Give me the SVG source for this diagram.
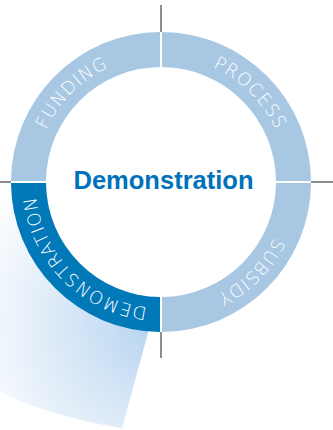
<svg xmlns="http://www.w3.org/2000/svg" width="333" height="430" viewBox="0 0 333 430">
  <defs>
    <radialGradient id="shade" gradientUnits="userSpaceOnUse" cx="155" cy="325" r="200">
      <stop offset="0" stop-color="#b6d4f0"/>
      <stop offset="0.45" stop-color="#d9e8f7"/>
      <stop offset="1" stop-color="#ffffff"/>
    </radialGradient>
    <path id="labelPath" d="M 35,182 A 126 126 0 1 1 287,182 A 126 126 0 1 1 35,182"/>
  </defs>
  <style>
    .light { fill: #a7c7e3; }
    .dark { fill: #0178b7; }
    .tick { stroke: #707070; stroke-width: 1.6; fill: none; }
    .seg-label { font-family: "DejaVu Sans", "Lato", sans-serif; font-weight: 200; font-size: 18px; letter-spacing: 1px; fill: #ffffff; }
    .title { font-family: "Liberation Sans", Arial, sans-serif; font-weight: bold; font-size: 25px; fill: #0071bb; }
  </style>
  <rect x="0" y="0" width="333" height="430" fill="#ffffff"/>
  <g id="shade-beam">
    <path d="M 0,205 L 30,186 L 161,182 L 148,333 L 122,428 Q 55,418 0,392 Z" fill="url(#shade)"/>
    <circle cx="161" cy="182" r="116" fill="#ffffff"/>
  </g>
  <g id="connectors">
    <line class="tick" x1="161" y1="5" x2="161" y2="32"/>
    <line class="tick" x1="0" y1="182" x2="11" y2="182"/>
    <line class="tick" x1="311" y1="182" x2="333" y2="182"/>
    <line class="tick" x1="161" y1="332" x2="161" y2="358"/>
  </g>
  <g id="node-funding">
    <path class="light" d="M 11,181 A 150 150 0 0 1 160,32 L 160,67 A 115 115 0 0 0 46,181 Z"/>
    <text class="seg-label"><textPath href="#labelPath" startOffset="12.5%" text-anchor="middle">FUNDING</textPath></text>
  </g>
  <g id="node-process">
    <path class="light" d="M 162,32 A 150 150 0 0 1 311,181 L 276,181 A 115 115 0 0 0 162,67 Z"/>
    <text class="seg-label"><textPath href="#labelPath" startOffset="37.5%" text-anchor="middle">PROCESS</textPath></text>
  </g>
  <g id="node-subsidy">
    <path class="light" d="M 311,183 A 150 150 0 0 1 162,332 L 162,297 A 115 115 0 0 0 276,183 Z"/>
    <text class="seg-label"><textPath href="#labelPath" startOffset="62.5%" text-anchor="middle">SUBSIDY</textPath></text>
  </g>
  <g id="node-demonstration">
    <path class="dark" d="M 160,332 A 150 150 0 0 1 11,183 L 46,183 A 115 115 0 0 0 160,297 Z"/>
    <text class="seg-label"><textPath href="#labelPath" startOffset="87.5%" text-anchor="middle">DEMONSTRATION</textPath></text>
  </g>
  <g id="node-center">
    <text class="title" x="163.5" y="189" text-anchor="middle" textLength="180" lengthAdjust="spacingAndGlyphs">Demonstration</text>
  </g>
</svg>
